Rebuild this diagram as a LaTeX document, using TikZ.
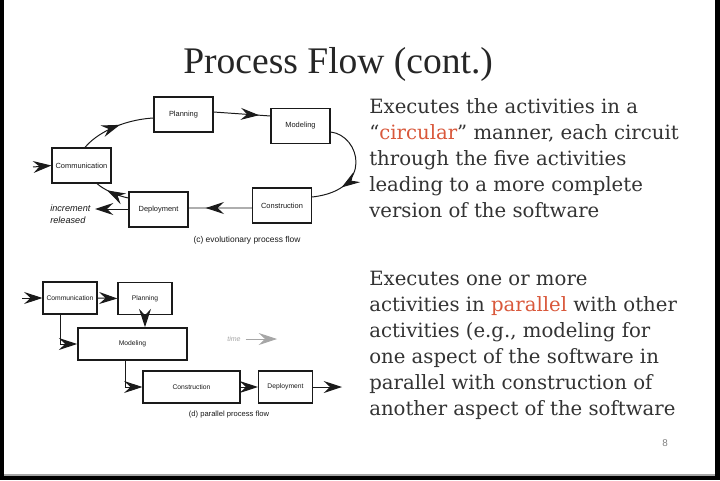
\documentclass[tikz,border=0pt]{standalone}
\usepackage{fontspec}
\setmainfont{DejaVu Serif}
\newfontfamily\titlefont{Liberation Serif}
\newfontfamily\figfont{Liberation Sans}
\usetikzlibrary{arrows.meta,calc,decorations.markings}
\definecolor{bodygray}{HTML}{333333}
\definecolor{accent}{HTML}{D9583B}
\definecolor{figink}{HTML}{1A1A1A}

\begin{document}
\begin{tikzpicture}[
    x={(0.025cm,0cm)},
    y={(0cm,-0.025cm)},
    box/.style={draw=figink, line width=0.8pt, inner sep=0pt,
        minimum width=1.475cm, minimum height=0.875cm,
        font=\figfont\fontsize{5.3}{6}\selectfont, text=figink},
    pbox/.style={box, minimum width=1.35cm, minimum height=0.8cm,
        font=\figfont\fontsize{4.8}{6}\selectfont},
    flow/.style={draw=figink, line width=0.7pt,
        -{Stealth[length=13pt,width=8.5pt,inset=4.5pt]}},
    midflow/.style={draw=figink, line width=0.7pt, postaction={decorate},
        decoration={markings, mark=at position #1 with
            {\arrow{Stealth[length=13pt,width=8.5pt,inset=4.5pt]}}}},
    caption/.style={font=\figfont\fontsize{6}{7}\selectfont, text=figink},
    desc/.style={anchor=north west, inner sep=0pt, align=left,
        font=\fontsize{14}{18.5}\selectfont, text=bodygray}
]
% slide frame
\fill[black] (0,0) rectangle (720,480);
\fill[white] (4,0) rectangle (715,474);
\fill[black!35] (4,474) rectangle (715,476);

\node[anchor=base west, inner sep=0pt, text=black!85,
    font=\titlefont\fontsize{26.7}{30}\selectfont] (title) at (183,73) {Process Flow (cont.)};

% (c) evolutionary process flow
\node[box] (plan) at (183.5,114.5) {Planning};
\node[box] (model) at (300.5,126) {Modeling};
\node[box] (comm) at (81.5,165.5) {Communication};
\node[box] (constr) at (282,205.5) {Construction};
\node[box] (deploy) at (158.5,209.5) {Deployment};
\node[anchor=west, inner sep=0pt, align=left, text=figink,
    font=\figfont\itshape\fontsize{6.5}{8.8}\selectfont] (inc) at (50,214) {increment\\released};
\node[caption] (capc) at (247,240) {(c) evolutionary process flow};

\coordinate (cin) at (33,167);
\coordinate (incend) at (95,209);
\draw[flow] (cin) -- (comm.west);
\draw[midflow=0.55] ($(comm.north)+(3.5,0)$) .. controls (95,135) and (120,120) .. ($(plan.west)+(0,3.5)$);
\draw[midflow=0.8] ($(plan.east)+(0,-2.5)$) -- ($(model.west)+(0,-10)$);
\draw[midflow=0.7] ($(model.east)+(0,6)$) .. controls (360,135) and (375,190) .. ($(constr.east)+(0,-8.5)$);
\draw[midflow=0.73] ($(constr.west)+(0,2.5)$) -- ($(deploy.east)+(0,-1.5)$);
\draw[midflow=0.65] ($(deploy.west)+(0,-11.5)$) .. controls (118,196) and (104,190) .. ($(comm.south)+(15.5,0)$);
\draw[flow] ($(deploy.west)+(0,-0.5)$) -- (incend);

% (d) parallel process flow
\node[pbox] (comm2) at (70,298) {Communication};
\node[pbox] (plan2) at (145,298.5) {Planning};
\node[pbox, line width=1.2pt, minimum width=2.725cm] (model2) at (132.5,344) {Modeling};
\node[pbox, minimum width=2.425cm] (constr2) at (191.5,387) {Construction};
\node[pbox] (deploy2) at (285.5,387) {Deployment};
\node[caption, font=\figfont\fontsize{5.4}{7}\selectfont] (capd) at (229,415) {(d) parallel process flow};
\node[text=black!35, font=\figfont\itshape\fontsize{5}{6}\selectfont] (time) at (234,339) {time};

\coordinate (din) at (22,298);
\coordinate (dout) at (342,387);
\coordinate (timeend) at (277,339);
\draw[flow] (din) -- (comm2.west);
\draw[flow] (comm2.east) -- (plan2.west);
\draw[flow] ($(comm2.south west)!0.33!(comm2.south east)$) |- (model2.west);
\draw[flow] (plan2.south) -- (plan2.south |- model2.north);
\draw[flow] ($(model2.south west)!0.44!(model2.south east)$) |- (constr2.west);
\draw[flow] (constr2.east) -- (deploy2.west);
\draw[flow] (deploy2.east) -- (dout);
\draw[flow, draw=black!35, line width=0.6pt] (time.east) -- (timeend);

% text
\node[desc] (desc1) at (369,98) {Executes the activities in a\\
“\textcolor{accent}{circular}” manner, each circuit\\
through the five activities\\
leading to a more complete\\
version of the software};
\node[desc] (desc2) at (369,271) {Executes one or more\\
activities in \textcolor{accent}{parallel} with other\\
activities (e.g., modeling for\\
one aspect of the software in\\
parallel with construction of\\
another aspect of the software};
\node[text=black!50, font=\figfont\fontsize{7}{8}\selectfont] (pagenum) at (665,443) {8};
\end{tikzpicture}
\end{document}
